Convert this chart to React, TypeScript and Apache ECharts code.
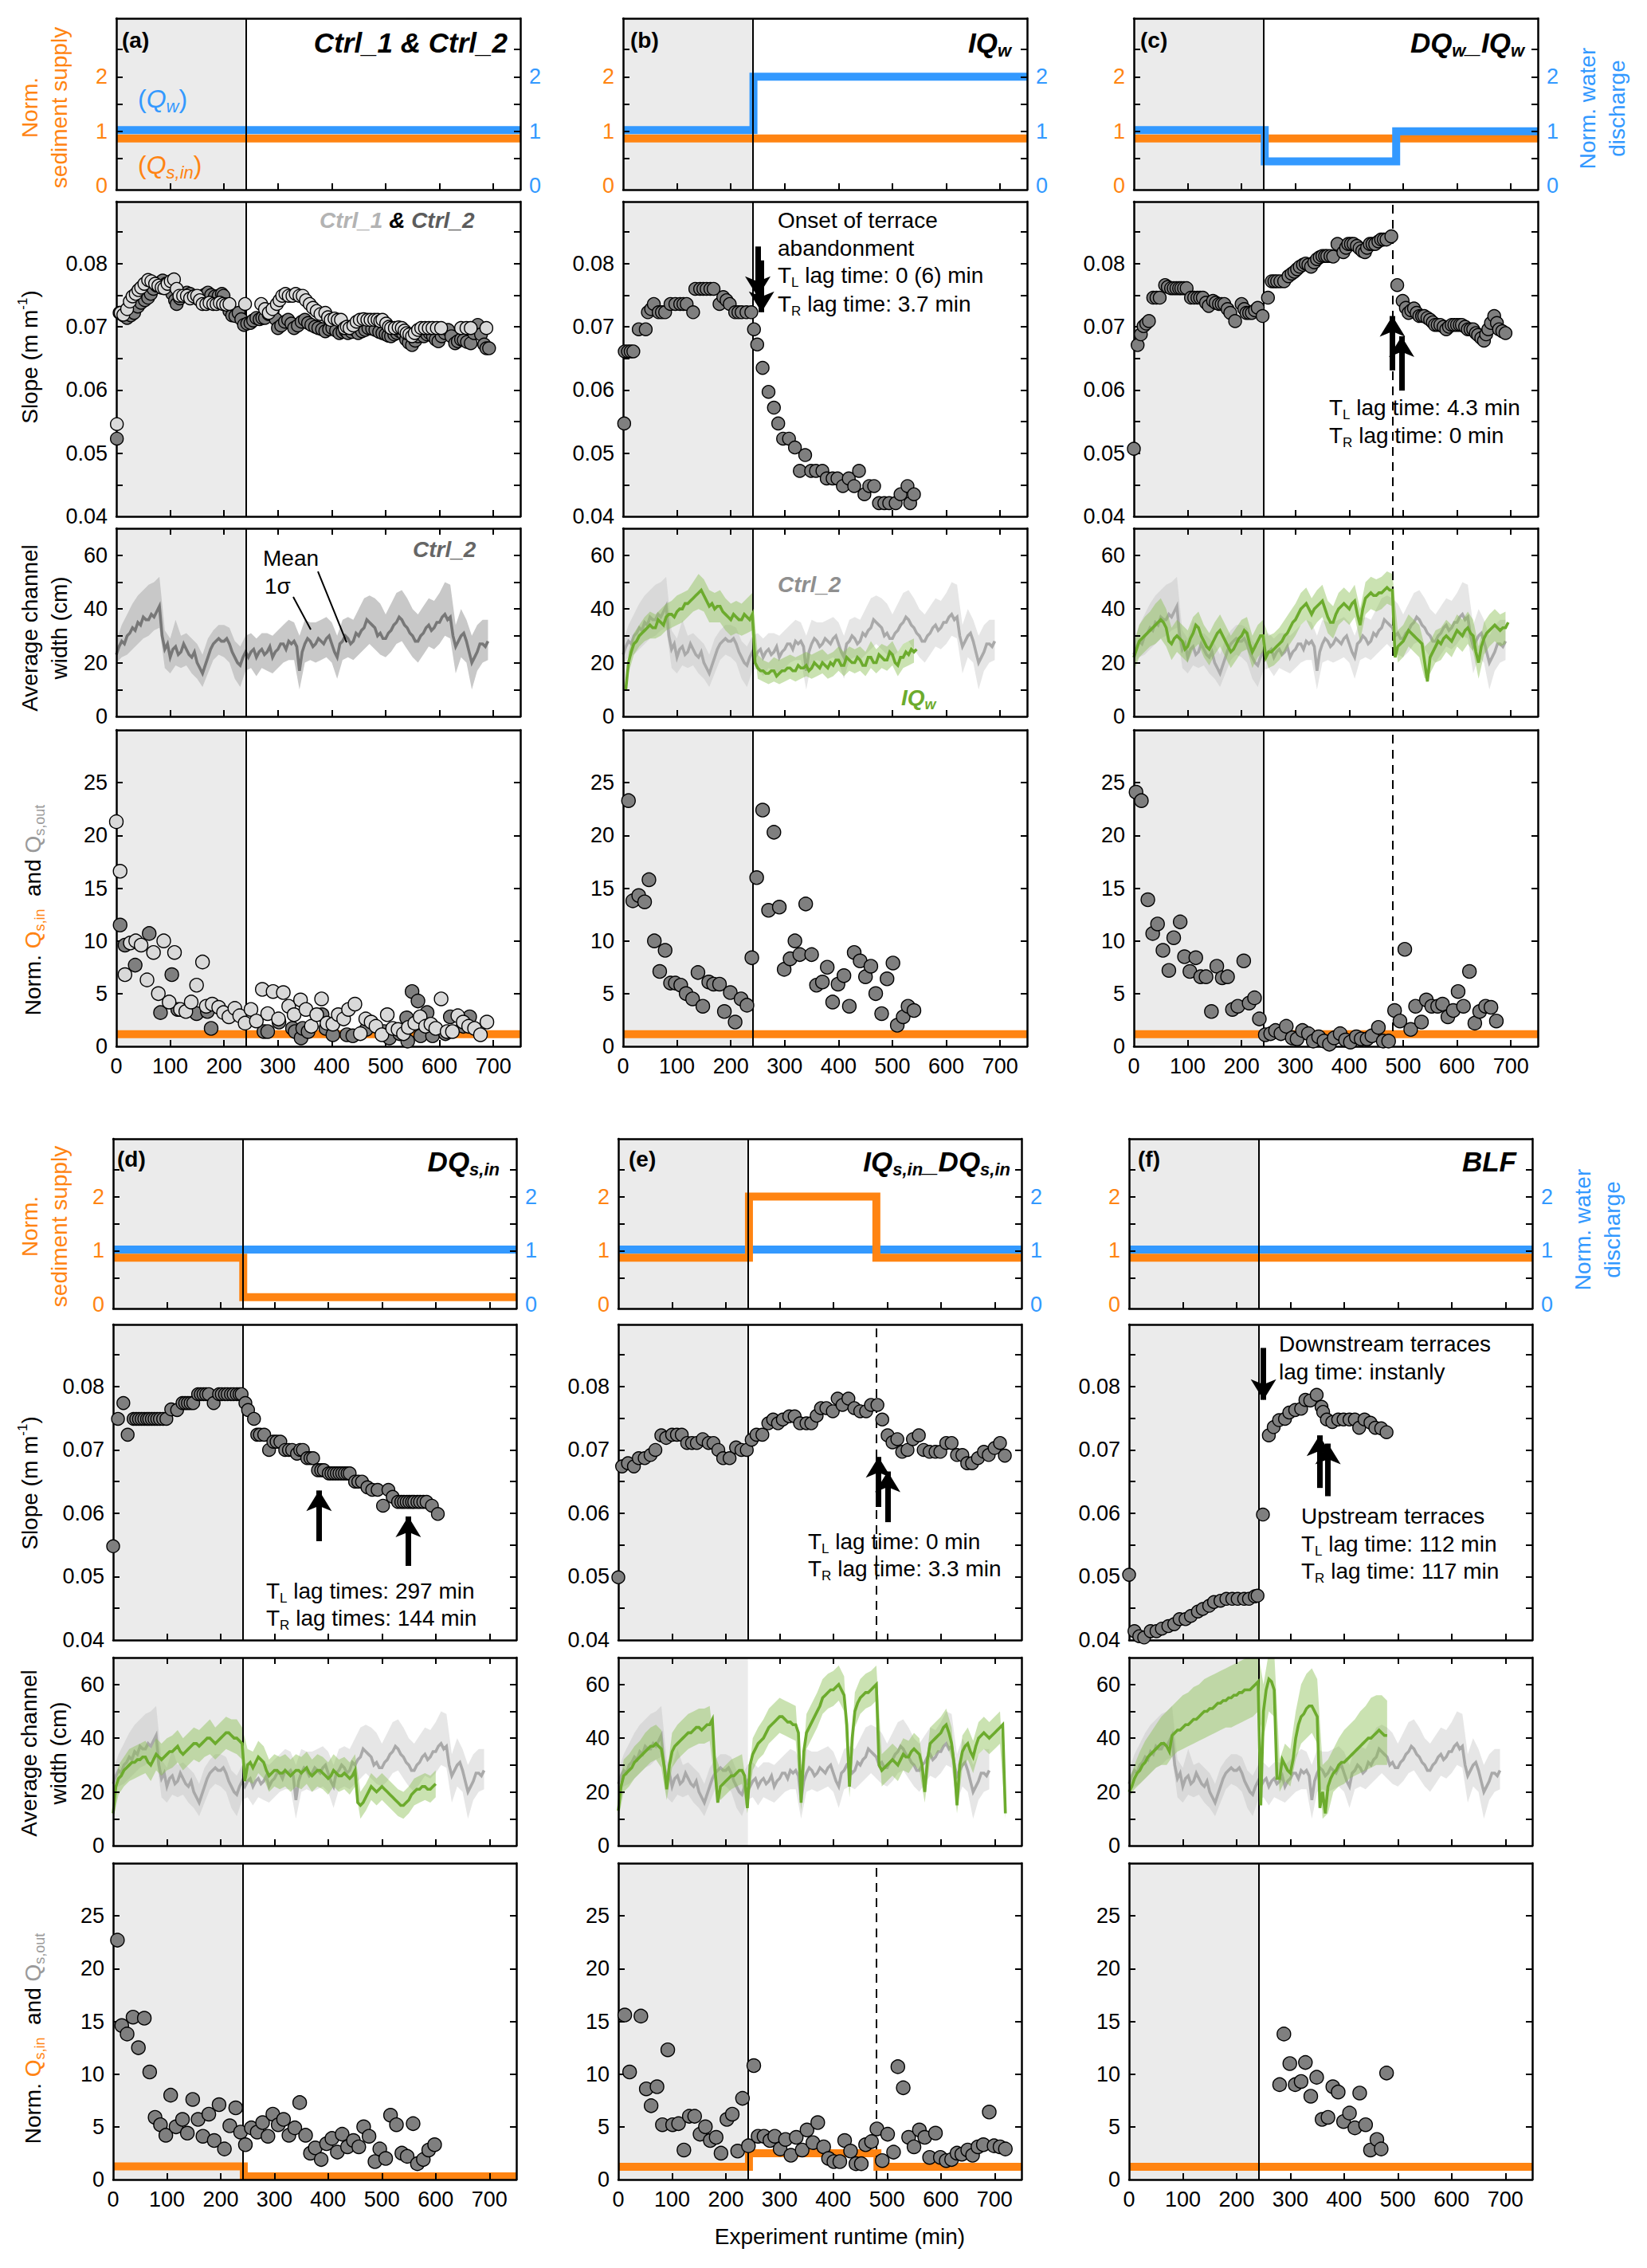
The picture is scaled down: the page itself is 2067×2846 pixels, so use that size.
import React, { useEffect, useRef } from 'react';
import * as echarts from 'echarts';

const FONT = '"Liberation Sans", Arial, Helvetica, sans-serif';
const ORANGE = '#ff8412';
const BLUE = '#3399ff';
const GREEN = '#6cab2d';
const GREEN_BAND = 'rgba(138,191,82,0.45)';
const GREY_MEAN = '#a9a9a9';
const GREY_BAND = 'rgba(185,185,185,0.36)';
const DARK_PT = '#7f7f7f';
const LIGHT_PT = '#d9d9d9';
const SHADE = '#ebebeb';

// ---------- axis ticks / labels ----------
const X_TICKS = [100, 200, 300, 400, 500, 600, 700];
const X_LABELS = [0, 100, 200, 300, 400, 500, 600, 700];
const SUPPLY_TICKS = [0.5, 1, 1.5, 2, 2.5];
const SUPPLY_LABELS = [0, 1, 2];
const SLOPE_TICKS = [0.045, 0.05, 0.055, 0.06, 0.065, 0.07, 0.075, 0.08, 0.085];
const SLOPE_LABELS = [0.04, 0.05, 0.06, 0.07, 0.08];
const WIDTH_TICKS = [10, 20, 30, 40, 50, 60];
const WIDTH_LABELS = [0, 20, 40, 60];
const QS_TICKS = [5, 10, 15, 20, 25];
const QS_LABELS = [0, 5, 10, 15, 20, 25];

// ---------- normalized supply (orange = Qs,in ; blue = Qw) ----------
const supOrangeFlat = [[0, 0.87], [750, 0.87]];
const supOrangeD = [[0, 0.87], [242, 0.87], [242, 0.14], [750, 0.14]];
const supOrangeE = [[0, 0.87], [243, 0.87], [243, 2.0], [480, 2.0], [480, 0.87], [750, 0.87]];
const supBlueFlat = [[0, 1.02], [750, 1.02]];
const supBlueB = [[0, 1.02], [242, 1.02], [242, 2.0], [750, 2.0]];
const supBlueC = [[0, 1.02], [243, 1.02], [243, 0.45], [487, 0.45], [487, 1.0], [750, 1.0]];

// ---------- normalized Qs,in in lower plots ----------
const qsInFlat = [[0, 1.15], [750, 1.15]];
const qsInD = [[0, 1.25], [243, 1.25], [243, 0.3], [750, 0.3]];
const qsInE = [[0, 1.2], [243, 1.2], [243, 2.5], [482, 2.5], [482, 1.2], [750, 1.2]];
const qsInF = [[0, 1.2], [750, 1.2]];

// ---------- slope (m/m) ----------
const slopeCtrl2 = [[1,0.0523],[6,0.0722],[13,0.0718],[20,0.0714],[27,0.0718],[33,0.0722],[40,0.0732],[46,0.0738],[53,0.0742],[59,0.0746],[64,0.0752],[69,0.076],[75,0.0765],[81,0.077],[86,0.0773],[92,0.0768],[98,0.0762],[104,0.0752],[109,0.0742],[112,0.0736],[118,0.0745],[124,0.075],[131,0.0754],[137,0.0752],[144,0.0748],[150,0.0745],[157,0.0748],[163,0.075],[170,0.0754],[176,0.075],[183,0.0748],[190,0.0749],[196,0.0752],[199,0.0749],[205,0.0735],[210,0.0725],[215,0.0718],[221,0.0717],[227,0.0722],[232,0.0712],[237,0.0703],[243,0.0705],[249,0.0706],[254,0.071],[260,0.0714],[266,0.0712],[271,0.0714],[276,0.0714],[283,0.072],[290,0.0725],[296,0.0712],[300,0.0698],[306,0.0702],[313,0.0708],[319,0.0711],[325,0.0705],[330,0.0698],[337,0.0702],[344,0.0708],[350,0.0711],[356,0.0706],[362,0.0703],[369,0.07],[375,0.0698],[382,0.0696],[388,0.0693],[395,0.0696],[401,0.0698],[408,0.0694],[414,0.069],[420,0.0692],[426,0.0693],[430,0.069],[437,0.0692],[443,0.0695],[449,0.069],[456,0.0693],[462,0.0695],[468,0.0698],[475,0.0697],[481,0.0695],[488,0.0692],[494,0.069],[500,0.0688],[505,0.0686],[510,0.0685],[516,0.0688],[521,0.069],[526,0.0693],[532,0.069],[538,0.068],[543,0.0675],[549,0.0671],[555,0.0678],[560,0.0685],[566,0.069],[571,0.0685],[577,0.0688],[582,0.069],[588,0.0685],[593,0.068],[598,0.0677],[604,0.0685],[610,0.069],[616,0.0695],[622,0.0685],[629,0.0674],[634,0.0677],[640,0.068],[645,0.0679],[651,0.0676],[658,0.0674],[664,0.069],[671,0.0703],[677,0.0688],[683,0.0672],[687,0.0666],[692,0.0666]];
const slopeCtrl1 = [[1,0.0546],[8,0.0722],[13,0.0719],[20,0.0728],[25,0.074],[30,0.0748],[36,0.0752],[41,0.0758],[46,0.0762],[52,0.0768],[59,0.0774],[65,0.0772],[72,0.0768],[78,0.0765],[84,0.0762],[89,0.0761],[95,0.0768],[101,0.0772],[107,0.0775],[112,0.076],[117,0.0749],[124,0.0749],[131,0.0749],[137,0.0745],[144,0.0748],[150,0.0749],[155,0.0742],[160,0.0736],[167,0.0736],[173,0.0738],[180,0.0736],[186,0.0736],[192,0.0738],[198,0.0736],[204,0.0735],[210,0.0736],[239,0.0736],[269,0.0736],[276,0.0728],[283,0.0722],[290,0.0728],[298,0.0736],[303,0.0742],[308,0.0749],[314,0.0752],[320,0.0749],[327,0.0749],[333,0.0752],[340,0.0749],[346,0.0749],[352,0.0742],[359,0.0736],[365,0.073],[372,0.0725],[379,0.072],[388,0.0722],[393,0.0715],[398,0.0711],[405,0.0713],[411,0.0711],[417,0.0711],[424,0.0698],[428,0.07],[433,0.0698],[440,0.0702],[446,0.0708],[452,0.0711],[459,0.0712],[466,0.0711],[472,0.0711],[479,0.0711],[485,0.0711],[490,0.0709],[494,0.0711],[501,0.0705],[506,0.07],[510,0.0698],[517,0.0698],[524,0.0699],[530,0.0698],[535,0.0694],[539,0.069],[544,0.0688],[549,0.0685],[554,0.069],[560,0.0695],[566,0.0698],[573,0.0698],[580,0.0698],[587,0.0698],[595,0.0698],[603,0.0698],[640,0.0698],[650,0.0698],[658,0.0698],[687,0.0698]];
const slopeB = [[2,0.0547],[3,0.0661],[9,0.0661],[14,0.0661],[19,0.0661],[29,0.0696],[42,0.0696],[46,0.0723],[52,0.0728],[57,0.0736],[66,0.0723],[72,0.0723],[78,0.0723],[88,0.0736],[97,0.0736],[106,0.0736],[112,0.0736],[118,0.0736],[130,0.0723],[134,0.076],[143,0.076],[149,0.076],[155,0.076],[162,0.076],[168,0.076],[179,0.0736],[186,0.0747],[192,0.0742],[198,0.0736],[208,0.0723],[214,0.0723],[220,0.0723],[229,0.0723],[238,0.0723],[243,0.0696],[249,0.0672],[259,0.0635],[270,0.0597],[280,0.0572],[288,0.0547],[297,0.0523],[308,0.0523],[319,0.0509],[328,0.0472],[338,0.0497],[349,0.0472],[358,0.0472],[370,0.0472],[378,0.046],[389,0.046],[398,0.046],[408,0.0448],[419,0.046],[429,0.0448],[438,0.0472],[448,0.0435],[457,0.0448],[466,0.0448],[475,0.0421],[485,0.0421],[494,0.0421],[506,0.0421],[515,0.0435],[528,0.0448],[533,0.0421],[540,0.0435]];
const slopeC = [[0,0.0507],[7,0.0671],[13,0.0688],[18,0.0701],[23,0.0705],[28,0.0709],[36,0.0746],[42,0.0746],[48,0.0746],[58,0.0766],[63,0.0763],[69,0.0761],[74,0.0761],[79,0.0761],[84,0.0761],[88,0.0761],[93,0.0761],[98,0.0761],[106,0.0746],[112,0.0746],[118,0.0746],[123,0.0746],[128,0.0746],[134,0.0738],[139,0.0733],[147,0.0741],[152,0.0738],[158,0.0736],[163,0.0736],[168,0.0736],[174,0.0728],[179,0.0722],[188,0.0709],[200,0.0736],[205,0.0728],[209,0.0722],[214,0.0722],[219,0.0722],[225,0.0726],[230,0.073],[239,0.0717],[249,0.0746],[256,0.0772],[261,0.0772],[266,0.0772],[272,0.0772],[279,0.0772],[287,0.078],[293,0.0784],[298,0.0787],[303,0.0791],[308,0.0795],[314,0.0798],[319,0.08],[324,0.0798],[329,0.0795],[335,0.0802],[340,0.0807],[345,0.081],[350,0.0812],[355,0.0812],[359,0.0812],[365,0.0812],[370,0.0811],[378,0.0831],[389,0.0818],[394,0.0825],[398,0.0831],[403,0.0831],[408,0.0831],[414,0.0828],[419,0.0824],[424,0.082],[429,0.0818],[433,0.0825],[438,0.0831],[443,0.0831],[448,0.0831],[454,0.0835],[459,0.0838],[464,0.0838],[469,0.0838],[478,0.0843],[489,0.0766],[499,0.0741],[505,0.073],[510,0.0722],[515,0.0726],[520,0.0729],[525,0.0722],[530,0.0717],[535,0.0717],[539,0.0717],[545,0.0714],[550,0.0711],[555,0.0707],[559,0.0703],[564,0.0703],[569,0.0703],[575,0.07],[580,0.0696],[585,0.07],[590,0.0703],[595,0.0703],[600,0.0703],[605,0.0703],[609,0.0703],[615,0.07],[620,0.0696],[625,0.0696],[630,0.0696],[635,0.069],[639,0.0687],[645,0.0682],[650,0.0678],[654,0.0688],[658,0.0696],[663,0.0706],[669,0.0717],[674,0.0706],[678,0.0696],[684,0.0693],[690,0.069]];
const slopeD = [[0,0.0548],[9,0.0749],[19,0.0774],[27,0.0724],[38,0.0749],[43,0.0749],[48,0.0749],[53,0.0749],[58,0.0749],[63,0.0749],[67,0.0749],[72,0.0749],[77,0.0749],[82,0.0749],[87,0.0749],[93,0.0749],[99,0.0749],[108,0.0764],[119,0.0763],[129,0.0774],[134,0.0774],[139,0.0774],[144,0.0774],[149,0.0774],[158,0.0788],[163,0.0788],[168,0.0788],[173,0.0788],[178,0.0788],[187,0.0774],[197,0.0788],[202,0.0788],[208,0.0788],[213,0.0788],[219,0.0788],[224,0.0788],[230,0.0788],[235,0.0788],[239,0.0788],[246,0.0774],[251,0.0763],[262,0.0749],[268,0.0724],[273,0.0724],[281,0.0724],[290,0.07],[298,0.0713],[304,0.0713],[311,0.0713],[320,0.07],[327,0.07],[333,0.07],[342,0.0694],[348,0.07],[353,0.07],[361,0.0687],[367,0.0687],[372,0.0687],[381,0.0668],[387,0.0668],[392,0.0668],[401,0.0663],[406,0.0663],[411,0.0663],[416,0.0663],[421,0.0663],[426,0.0663],[431,0.0663],[436,0.0663],[440,0.0663],[450,0.065],[456,0.065],[463,0.065],[473,0.0641],[482,0.0637],[492,0.0637],[502,0.0612],[512,0.0637],[520,0.0626],[530,0.0618],[536,0.0618],[541,0.0618],[546,0.0618],[551,0.0618],[556,0.0618],[560,0.0618],[566,0.0618],[571,0.0618],[577,0.0618],[583,0.0618],[593,0.0612],[604,0.0599]];
const slopeE = [[0,0.0499],[7,0.0674],[18,0.0679],[29,0.0674],[38,0.0687],[49,0.0687],[60,0.0692],[69,0.07],[80,0.0723],[89,0.0719],[100,0.0724],[109,0.0724],[118,0.0724],[128,0.0711],[137,0.0711],[146,0.0711],[157,0.0717],[168,0.0711],[177,0.0711],[186,0.07],[195,0.0687],[207,0.0687],[219,0.0704],[229,0.07],[239,0.07],[248,0.0716],[257,0.0724],[268,0.0724],[279,0.0742],[288,0.0748],[297,0.0742],[306,0.0748],[318,0.0753],[328,0.0753],[338,0.0742],[350,0.0742],[359,0.0742],[369,0.0754],[377,0.0766],[387,0.0766],[399,0.0761],[408,0.0781],[417,0.0771],[428,0.0781],[439,0.0766],[450,0.0761],[461,0.0761],[470,0.0771],[482,0.0771],[491,0.0748],[501,0.0723],[510,0.0712],[519,0.0717],[528,0.0697],[538,0.07],[548,0.0717],[559,0.0723],[568,0.07],[579,0.0697],[590,0.0697],[599,0.0697],[610,0.0711],[620,0.0711],[630,0.0692],[640,0.0692],[649,0.0679],[658,0.0679],[669,0.0687],[680,0.0697],[689,0.0692],[700,0.0703],[710,0.0711],[719,0.0691]];
const slopeF = [[0,0.0503],[10,0.0414],[19,0.0406],[28,0.0404],[40,0.0414],[51,0.0414],[61,0.0418],[73,0.0422],[84,0.0425],[94,0.0433],[105,0.0433],[115,0.0438],[128,0.0445],[137,0.0449],[149,0.0454],[158,0.046],[170,0.0462],[181,0.0465],[192,0.0465],[202,0.0465],[214,0.0465],[223,0.0465],[234,0.0469],[239,0.047],[249,0.0598],[260,0.0723],[269,0.0736],[279,0.0747],[290,0.0749],[298,0.0759],[309,0.0763],[320,0.0765],[328,0.0779],[337,0.0778],[349,0.0787],[358,0.0768],[361,0.076],[368,0.0748],[378,0.0744],[389,0.0748],[399,0.0748],[410,0.0748],[420,0.0748],[428,0.0735],[438,0.0748],[449,0.0743],[458,0.0735],[469,0.0734],[479,0.0728]];

// ---------- normalized Qs,out ----------
const qsCtrl2 = [[7,11.5],[16,9.6],[35,7.7],[61,10.7],[82,3.2],[103,6.8],[114,3.5],[149,3.1],[169,3.3],[176,1.7],[274,1.4],[281,1.4],[302,2.3],[327,1.7],[332,1.4],[343,0.8],[346,1.7],[356,1.4],[382,3.0],[389,1.7],[402,1.1],[428,1.1],[439,1.0],[464,1.6],[497,1.4],[507,0.8],[526,1.2],[539,2.7],[541,0.5],[549,5.2],[560,4.3],[565,1.0],[577,3.2],[587,1.0],[611,1.2],[620,2.8],[644,1.9],[656,2.8]];
const qsCtrl1 = [[0,21.3],[7,16.6],[16,6.8],[26,9.8],[36,10.0],[46,9.6],[57,6.3],[69,8.9],[78,5.0],[88,10.0],[98,4.2],[108,8.9],[119,3.5],[129,3.3],[139,4.2],[149,5.8],[160,8.0],[167,3.8],[178,4.0],[190,3.7],[199,3.2],[209,2.8],[220,3.6],[229,2.9],[239,2.2],[250,3.5],[260,2.4],[271,5.4],[281,3.1],[291,5.2],[301,2.6],[310,5.1],[320,3.8],[330,3.0],[342,4.4],[352,3.5],[362,1.9],[372,3.0],[381,4.5],[391,2.2],[402,2.1],[412,3.0],[422,2.6],[431,3.5],[443,4.0],[453,1.2],[463,2.6],[473,2.3],[482,1.9],[493,1.1],[503,3.0],[513,1.7],[523,1.6],[533,1.2],[542,1.8],[554,2.2],[564,2.8],[574,1.9],[584,2.1],[593,1.7],[603,4.5],[614,1.4],[624,1.4],[634,2.9],[644,2.3],[654,1.9],[665,1.7],[676,1.1],[688,2.3]];
const qsB = [[10,23.3],[18,13.8],[29,14.3],[40,13.7],[48,15.8],[58,10.0],[68,7.1],[78,9.1],[88,6.0],[97,6.0],[107,5.8],[117,5.0],[129,4.5],[139,7.0],[148,3.8],[159,6.1],[168,5.9],[179,5.9],[188,3.3],[199,5.1],[208,2.3],[219,4.5],[230,3.9],[239,8.4],[248,16.0],[259,22.4],[270,12.9],[280,20.3],[290,13.2],[299,7.3],[310,8.3],[319,10.0],[328,8.7],[339,13.5],[350,8.7],[359,5.8],[370,6.1],[379,7.5],[389,4.2],[399,5.9],[410,6.7],[420,3.8],[429,8.9],[440,8.1],[450,6.6],[460,7.6],[469,5.0],[480,3.1],[490,6.4],[501,7.9],[509,2.0],[520,2.8],[529,3.8],[540,3.4]];
const qsC = [[4,24.1],[14,23.3],[26,13.9],[35,10.7],[44,11.6],[54,9.1],[65,7.2],[74,10.3],[86,11.8],[94,8.5],[104,7.1],[115,8.4],[124,6.6],[134,6.6],[144,3.3],[154,7.6],[164,6.5],[174,6.6],[183,3.5],[193,3.8],[204,8.1],[214,4.1],[224,4.6],[233,2.6],[244,1.1],[254,1.2],[263,1.5],[273,1.2],[283,1.9],[294,0.8],[303,0.7],[313,1.5],[324,1.2],[333,0.5],[343,0.9],[353,0.5],[363,0.2],[372,0.8],[383,1.2],[393,0.6],[402,0.4],[413,0.9],[422,0.7],[433,0.7],[442,1.0],[454,1.8],[463,0.5],[473,0.5],[484,3.4],[494,2.4],[503,9.2],[514,1.6],[523,3.8],[534,2.3],[543,4.4],[553,3.8],[564,3.8],[573,4.0],[583,2.8],[593,3.4],[602,5.2],[612,3.8],[623,7.1],[633,2.2],[642,3.3],[653,3.8],[663,3.7],[673,2.4]];
const qsD = [[8,22.7],[16,14.6],[26,13.8],[37,15.4],[47,12.5],[58,15.3],[68,10.2],[78,5.9],[88,5.2],[98,4.2],[107,8.0],[117,5.0],[129,5.7],[138,4.4],[148,7.6],[158,5.7],[167,4.1],[178,6.2],[188,3.7],[197,7.1],[207,2.9],[217,5.1],[228,6.8],[237,4.5],[246,3.3],[257,4.9],[268,4.5],[278,5.4],[288,4.1],[297,6.2],[307,5.2],[317,5.7],[327,4.2],[338,4.9],[347,7.3],[358,4.2],[367,2.5],[376,3.0],[387,1.9],[397,3.4],[407,3.9],[417,2.6],[426,4.3],[436,3.1],[447,3.7],[457,3.1],[466,5.0],[476,4.1],[487,1.7],[496,2.9],[507,2.0],[516,6.1],[527,5.2],[537,2.5],[547,2.2],[558,5.3],[566,1.5],[577,1.9],[587,2.8],[598,3.3]];
const qsE = [[12,15.6],[21,10.2],[42,15.5],[52,8.6],[61,7.0],[72,8.8],[82,5.2],[92,12.3],[101,5.2],[112,5.3],[122,2.8],[132,6.0],[142,6.0],[152,4.3],[162,5.0],[171,3.7],[182,4.0],[191,2.5],[202,5.7],[212,6.2],[222,2.7],[231,7.7],[242,3.2],[252,10.8],[260,4.1],[271,4.1],[282,3.7],[291,4.1],[301,2.9],[311,3.8],[321,2.3],[331,4.0],[342,2.8],[351,4.7],[362,3.5],[371,5.4],[382,3.1],[391,2.0],[401,1.7],[412,1.7],[421,3.7],[432,2.7],[442,1.5],[452,1.5],[460,3.3],[471,3.6],[481,4.8],[491,1.8],[501,4.3],[512,2.6],[520,10.7],[530,8.7],[540,4.0],[550,3.1],[560,4.7],[570,4.0],[579,2.1],[590,4.4],[599,2.1],[610,1.8],[620,1.9],[630,2.5],[639,2.4],[650,2.8],[659,2.3],[669,3.1],[679,3.3],[690,6.4],[699,3.2],[710,3.1],[720,2.9]];
const qsF = [[280,9.0],[288,13.8],[299,11.0],[309,9.0],[320,9.3],[328,11.1],[338,7.9],[349,9.7],[359,5.7],[370,5.9],[379,8.8],[389,8.3],[399,5.5],[410,6.3],[420,4.9],[429,8.2],[440,5.2],[449,2.8],[461,3.8],[469,2.9],[479,10.1]];

// ---------- average channel width (cm): mean every 5 min, 1-sigma bounds every 10 min ----------
const ctrl2Mean = [23,26,28,27,30,31,33,32,35,34,37,36,36,38,37,39,41,30,25,27,22,25,26,23,24,27,25,23,22,24,20,18,16,19,22,25,27,28,29,28,28,29,27,24,22,20,19,22,24,22,24,25,22,24,25,23,24,26,22,24,25,27,27,25,28,27,28,26,17,24,27,29,28,26,27,29,28,27,29,30,27,24,22,27,28,30,29,27,28,31,30,32,33,36,35,34,33,30,31,29,29,31,32,34,35,37,36,34,33,31,30,28,28,30,31,33,34,32,33,35,35,37,38,36,37,30,26,28,30,31,28,24,20,22,24,27,27,26,28];
const ctrl2Lo = [20,22,23,25,27,29,30,32,33,18,16,19,18,19,16,14,11,16,21,23,22,20,14,11,17,18,15,18,17,16,18,20,21,21,10,20,21,20,21,22,20,14,21,22,21,23,25,27,25,23,22,24,27,28,25,22,20,23,26,25,27,30,29,16,22,20,10,17,20,21];
const ctrl2Hi = [28,34,38,42,45,47,49,50,52,32,29,36,30,31,29,27,23,29,32,34,34,33,28,26,30,31,29,31,31,30,32,34,36,35,30,36,35,35,36,37,35,30,36,37,36,40,44,45,44,42,38,42,46,47,44,40,38,41,44,43,46,50,49,34,40,36,30,34,36,36];

const iqwMean = [10,20,24,27,28,30,31,32,33,34,33,33,36,35,34,37,38,38,37,39,40,40,42,42,43,44,45,46,47,45,43,41,42,40,41,41,39,38,37,36,38,37,36,36,38,37,36,38,20,18,17,17,16,16,17,17,15,16,17,17,18,18,17,17,19,18,18,19,17,18,20,19,18,20,19,18,20,19,21,21,19,19,22,21,20,20,22,21,19,19,22,22,20,20,23,22,21,21,24,23,20,19,22,22,24,23,25,24,25];
const iqwLo = [16,23,26,28,29,29,30,32,33,34,35,37,39,40,39,35,35,35,32,30,31,30,31,32,14,13,12,13,12,13,14,13,14,15,14,15,16,14,15,17,15,17,16,17,15,18,16,18,17,19,15,18,19,20];
const iqwHi = [24,31,34,37,39,38,40,42,43,45,46,47,50,53,51,47,46,47,44,42,43,42,44,46,23,21,20,22,21,22,23,22,23,24,23,24,25,23,24,26,24,26,25,26,24,28,25,27,26,28,24,27,28,29];

const dqwiqwMean = [22,25,28,29,30,31,32,33,34,35,36,35,33,28,27,29,30,29,28,25,26,29,31,34,33,30,28,26,25,27,29,31,32,30,28,26,24,25,27,29,30,32,31,27,24,26,28,30,30,22,24,24,25,26,27,28,30,31,33,35,36,38,40,41,42,40,38,40,41,42,43,40,37,35,35,38,40,41,42,41,40,42,43,38,34,40,44,45,46,45,45,46,46,47,48,47,47,22,26,27,28,30,32,31,30,29,28,27,20,13,22,24,26,28,27,29,30,29,28,30,32,31,30,32,33,31,30,24,20,26,29,31,32,33,34,33,32,33,33,35];
const dqwiqwLo = [17,22,24,26,27,29,26,21,24,22,20,25,27,22,19,23,26,22,18,21,24,25,18,22,24,18,19,21,24,27,30,34,36,32,35,37,31,29,34,36,34,37,28,38,40,39,40,42,41,20,22,26,24,22,14,16,20,21,24,22,26,24,27,24,14,23,26,28,26,27];
const dqwiqwHi = [27,34,37,39,42,44,40,33,36,34,32,37,39,34,31,35,38,34,30,33,36,37,30,34,36,30,31,33,36,39,42,46,48,44,47,49,43,41,46,48,46,49,40,50,52,51,52,54,53,32,34,38,36,34,26,28,32,33,36,34,38,36,39,36,26,35,38,40,38,39];

const dqsMean = [12,22,25,26,28,29,30,31,31,32,32,33,33,31,30,32,34,33,32,33,34,35,35,36,37,35,34,35,36,37,38,38,37,38,39,40,40,39,38,39,40,41,42,42,41,40,40,39,38,24,30,31,29,31,33,32,31,28,26,27,28,28,27,27,28,27,26,27,28,28,27,28,29,27,26,27,28,28,27,26,25,26,28,27,26,26,27,26,25,26,28,16,15,16,18,20,22,21,20,21,22,21,20,19,18,17,16,15,15,16,17,19,20,21,21,22,22,21,21,22,23];
const dqsLo = [10,19,22,24,25,26,27,24,28,26,28,29,31,28,30,32,31,33,34,32,34,36,35,34,32,24,23,27,25,20,22,21,22,20,22,21,23,20,22,21,19,22,20,21,19,22,10,13,17,15,17,15,13,11,10,12,15,16,17,16,18];
const dqsHi = [16,30,33,36,37,38,39,36,40,38,40,41,43,40,42,44,43,45,47,44,46,48,47,47,44,36,35,39,37,32,34,33,34,32,34,33,35,32,34,33,31,34,32,33,31,34,20,23,27,25,27,25,23,21,20,22,25,26,27,26,28];

const iqsdqsMean = [13,22,26,27,28,29,31,32,33,34,35,36,37,37,38,37,36,30,21,30,35,37,38,39,40,41,42,42,43,44,44,43,44,45,45,47,28,16,22,23,24,25,26,26,27,28,28,26,14,30,34,36,38,39,40,42,44,45,46,47,48,48,47,46,46,45,45,42,16,35,42,44,46,48,50,52,55,56,57,58,58,59,60,58,56,45,22,40,50,53,55,56,57,57,58,59,60,30,28,29,30,31,32,31,30,32,34,33,33,35,36,35,34,30,20,32,38,39,40,41,42,44,45,42,38,30,15,30,35,37,38,35,33,37,40,41,42,41,40,41,42,43,44,45,12];
const iqsdqsLo = [10,20,22,25,27,29,31,32,29,17,29,32,34,36,37,38,38,39,22,17,19,21,22,23,12,28,32,34,38,40,42,41,40,39,13,36,40,44,49,51,52,54,50,18,44,49,51,52,54,22,24,26,24,28,27,30,28,16,32,34,36,39,32,12,29,32,27,34,36,34,36,38,10];
const iqsdqsHi = [18,32,34,37,39,42,44,45,43,26,42,45,47,49,50,51,51,52,34,28,30,32,33,34,20,40,44,47,51,53,55,54,53,52,22,49,53,57,62,64,65,67,63,28,57,62,64,65,67,34,36,38,36,40,39,42,40,26,44,46,48,51,44,20,41,44,39,46,48,46,48,50,16];

const blfMean = [20,22,25,27,28,30,31,33,34,35,36,37,38,38,37,35,41,42,43,43,44,45,45,46,47,47,48,49,50,50,51,51,52,53,53,54,54,55,55,56,56,57,57,58,58,58,59,60,61,15,50,58,62,61,58,25,25,32,30,28,27,32,40,45,48,49,51,52,52,50,48,14,20,12,22,25,27,28,30,31,31,32,33,34,35,36,37,38,39,40,40,41,42,43,42,41,41];
const blfLo = [18,21,23,25,27,29,30,30,33,35,36,37,38,39,40,41,42,43,44,44,45,46,47,48,50,40,50,48,20,24,22,32,38,40,42,38,10,12,20,22,23,25,26,27,28,29,30,30,30];
const blfHi = [24,30,35,39,42,45,48,50,52,54,56,57,59,60,62,63,64,65,66,67,68,69,70,71,72,60,72,72,32,38,36,50,60,64,66,62,30,32,36,40,43,45,47,50,52,55,56,56,54];

const CTRL2_W = { t0: 0, dt: 5, mean: ctrl2Mean, bt0: 0, bdt: 10, lo: ctrl2Lo, hi: ctrl2Hi };
const W_B = { t0: 5, dt: 5, mean: iqwMean, bt0: 10, bdt: 10, lo: iqwLo, hi: iqwHi };
const W_C = { t0: 0, dt: 5, mean: dqwiqwMean, bt0: 0, bdt: 10, lo: dqwiqwLo, hi: dqwiqwHi };
const W_D = { t0: 0, dt: 5, mean: dqsMean, bt0: 0, bdt: 10, lo: dqsLo, hi: dqsHi };
const W_E = { t0: 0, dt: 5, mean: iqsdqsMean, bt0: 0, bdt: 10, lo: iqsdqsLo, hi: iqsdqsHi };
const W_F = { t0: 0, dt: 5, mean: blfMean, bt0: 0, bdt: 10, lo: blfLo, hi: blfHi };

const STEP_T = 241;

const PANELS: any[] = [
  { supO: supOrangeFlat, supB: supBlueFlat, blueTop: true,
    slope: [[slopeCtrl2, DARK_PT], [slopeCtrl1, LIGHT_PT]], qs: [[qsCtrl2, DARK_PT], [qsCtrl1, LIGHT_PT]], qsIn: qsInFlat,
    widths: [[CTRL2_W, '#777777', '#c8c8c8']], dashed: null, dashedIn: [], widthVLine: true, arrows: [] },
  { supO: supOrangeFlat, supB: supBlueB, blueTop: true,
    slope: [[slopeB, DARK_PT]], qs: [[qsB, DARK_PT]], qsIn: qsInFlat,
    widths: [[CTRL2_W, GREY_MEAN, GREY_BAND], [W_B, GREEN, GREEN_BAND]], dashed: null, dashedIn: [], widthVLine: true,
    arrows: [[250, 0.0827, 0.0747], [257, 0.0805, 0.0723]] },
  { supO: supOrangeFlat, supB: supBlueC, blueTop: true,
    slope: [[slopeC, DARK_PT]], qs: [[qsC, DARK_PT]], qsIn: qsInFlat,
    widths: [[CTRL2_W, GREY_MEAN, GREY_BAND], [W_C, GREEN, GREEN_BAND]], dashed: 480, dashedIn: ['slope', 'width', 'qs'], widthVLine: true,
    arrows: [[480, 0.0631, 0.0717], [497, 0.0599, 0.0685]] },
  { supO: supOrangeD, supB: supBlueFlat, blueTop: false,
    slope: [[slopeD, DARK_PT]], qs: [[qsD, DARK_PT]], qsIn: qsInD,
    widths: [[CTRL2_W, GREY_MEAN, GREY_BAND], [W_D, GREEN, GREEN_BAND]], dashed: null, dashedIn: [], widthVLine: true,
    arrows: [[383, 0.0556, 0.0636], [549, 0.0517, 0.0595]] },
  { supO: supOrangeE, supB: supBlueFlat, blueTop: false,
    slope: [[slopeE, DARK_PT]], qs: [[qsE, DARK_PT]], qsIn: qsInE,
    widths: [[CTRL2_W, GREY_MEAN, GREY_BAND], [W_E, GREEN, GREEN_BAND]], dashed: 480, dashedIn: ['slope', 'qs'], widthVLine: false,
    arrows: [[484, 0.061, 0.0689], [501, 0.0586, 0.0666]] },
  { supO: supOrangeFlat, supB: supBlueFlat, blueTop: true,
    slope: [[slopeF, DARK_PT]], qs: [[qsF, DARK_PT]], qsIn: qsInF,
    widths: [[CTRL2_W, GREY_MEAN, GREY_BAND], [W_F, GREEN, GREEN_BAND]], dashed: null, dashedIn: [], widthVLine: true,
    arrows: [[250, 0.0861, 0.0779], [354, 0.064, 0.0723], [370, 0.0627, 0.071]] },
];

const ROWS: any[] = [
  { supply: [23, 238], slope: [253, 648], width: [663, 899], qs: [916, 1313], left: [146, 782, 1423], w: 507 },
  { supply: [1429, 1642], slope: [1662, 2058], width: [2080, 2316], qs: [2338, 2735], left: [142, 776, 1417], w: 506 },
];

const KINDS: any = {
  supply: { min: -0.07, max: 3.07, ticks: SUPPLY_TICKS, labels: SUPPLY_LABELS },
  slope: { min: 0.04, max: 0.0898, ticks: SLOPE_TICKS, labels: SLOPE_LABELS, fmt: (v: number) => v.toFixed(2) },
  width: { min: 0, max: 70, ticks: WIDTH_TICKS, labels: WIDTH_LABELS },
  qs: { min: 0, max: 30, ticks: QS_TICKS, labels: QS_LABELS },
};

function R(size: number, o: any = {}) {
  return {
    fontSize: size, fontFamily: FONT, fontWeight: o.b ? 'bold' : 'normal', fontStyle: o.i ? 'italic' : 'normal',
    fill: o.c || '#000', lineHeight: o.lh || Math.round(size * 1.3), verticalAlign: o.va || 'middle',
  };
}
function T(x: number, y: number, text: string, rich: any, o: any = {}) {
  return {
    type: 'text', x, y, rotation: o.rot || 0, z: 100, silent: true,
    style: {
      text, rich, align: o.align || 'left', textAlign: o.align || 'left', verticalAlign: 'middle', textVerticalAlign: 'middle',
      fontSize: 28, fontFamily: FONT, fill: '#000',
    },
  };
}

function buildOption() {
  const grid: any[] = [];
  const xAxis: any[] = [];
  const yAxis: any[] = [];
  const series: any[] = [];
  const graphic: any[] = [];

  const axLine = { show: true, onZero: false, lineStyle: { color: '#000', width: 2.5 } };
  const tick = (vals: number[]) => ({ show: true, inside: true, length: 8, lineStyle: { color: '#000', width: 2 }, customValues: vals });
  const lbl = (vals: number[], color: string, fmt?: any) => ({
    show: true, customValues: vals, fontSize: 27, fontFamily: FONT, color, margin: 11, formatter: fmt || ((v: number) => String(v)),
  });

  function addPlot(row: number, col: number, kind: string) {
    const RW = ROWS[row];
    const [top, bottom] = RW[kind];
    const K = KINDS[kind];
    const gi = grid.length;
    grid.push({ left: RW.left[col], top, width: RW.w, height: bottom - top, show: false, outerBoundsMode: 'none', containLabel: false });
    const xi = xAxis.length;
    xAxis.push({
      gridIndex: gi, type: 'value', position: 'bottom', min: 0, max: 750, z: 10, axisLine: axLine,
      axisTick: tick(X_TICKS), splitLine: { show: false },
      axisLabel: kind === 'qs' ? lbl(X_LABELS, '#000') : { show: false },
    });
    xAxis.push({
      gridIndex: gi, type: 'value', position: 'top', min: 0, max: 750, z: 10, axisLine: axLine,
      axisTick: kind === 'width' ? tick(X_TICKS) : { show: false }, splitLine: { show: false }, axisLabel: { show: false },
    });
    const yi = yAxis.length;
    yAxis.push({
      gridIndex: gi, type: 'value', position: 'left', min: K.min, max: K.max, z: 10, axisLine: axLine,
      axisTick: tick(K.ticks), splitLine: { show: false },
      axisLabel: lbl(K.labels, kind === 'supply' ? ORANGE : '#000', K.fmt),
    });
    yAxis.push({
      gridIndex: gi, type: 'value', position: 'right', min: K.min, max: K.max, z: 10, axisLine: axLine,
      axisTick: tick(K.ticks), splitLine: { show: false },
      axisLabel: kind === 'supply' ? lbl(SUPPLY_LABELS, BLUE) : { show: false },
    });
    return { xi, yi };
  }

  function background(p: any, vline: boolean, dashed: number | null) {
    series.push({
      type: 'line', xAxisIndex: p.xi, yAxisIndex: p.yi, data: [], z: 1, silent: true,
      markArea: { silent: true, label: { show: false }, itemStyle: { color: SHADE }, data: [[{ xAxis: 0 }, { xAxis: STEP_T }]] },
    });
    const lines: any[] = [];
    if (vline) lines.push({ xAxis: STEP_T, lineStyle: { color: '#000', width: 2, type: 'solid' } });
    if (dashed != null) lines.push({ xAxis: dashed, lineStyle: { color: '#000', width: 2, type: [11, 8] } });
    if (lines.length) {
      series.push({
        type: 'line', xAxisIndex: p.xi, yAxisIndex: p.yi, data: [], z: 5, silent: true,
        markLine: { silent: true, symbol: 'none', label: { show: false }, data: lines },
      });
    }
  }

  function stepLine(p: any, data: number[][], color: string, width: number, z: number) {
    series.push({
      type: 'line', xAxisIndex: p.xi, yAxisIndex: p.yi, data, z, silent: true, symbol: 'none', showSymbol: false,
      lineStyle: { color, width, cap: 'butt', join: 'miter' },
    });
  }

  function scatter(p: any, data: number[][], color: string, size: number) {
    series.push({
      type: 'scatter', xAxisIndex: p.xi, yAxisIndex: p.yi, data, z: 12, silent: true, clip: false,
      symbol: 'circle', symbolSize: size, itemStyle: { color, borderColor: '#000', borderWidth: 1.4, opacity: 1 },
    });
  }

  function band(p: any, w: any, color: string, z: number) {
    const n = Math.min(w.lo.length, w.hi.length);
    const xs = w.lo.slice(0, n).map((_: number, i: number) => w.bt0 + i * w.bdt);
    series.push({
      type: 'custom', xAxisIndex: p.xi, yAxisIndex: p.yi, z, silent: true, clip: true,
      data: [[xs[0], w.lo[0]]],
      renderItem: (params: any, api: any) => {
        if (params.dataIndex !== 0) return null;
        const pts: number[][] = [];
        for (let i = 0; i < n; i++) pts.push(api.coord([xs[i], w.hi[i]]));
        for (let i = n - 1; i >= 0; i--) pts.push(api.coord([xs[i], w.lo[i]]));
        return { type: 'polygon', shape: { points: pts }, style: { fill: color } };
      },
    });
  }

  function meanLine(p: any, w: any, color: string, z: number) {
    series.push({
      type: 'line', xAxisIndex: p.xi, yAxisIndex: p.yi, z, silent: true, symbol: 'none', showSymbol: false,
      data: w.mean.map((v: number, i: number) => [w.t0 + i * w.dt, v]), lineStyle: { color, width: 3.6, join: 'miter' },
    });
  }

  function arrows(p: any, list: number[][]) {
    if (!list.length) return;
    series.push({
      type: 'line', xAxisIndex: p.xi, yAxisIndex: p.yi, data: [], z: 14, silent: true,
      markLine: {
        silent: true, symbol: ['none', 'arrow'], symbolSize: [24, 26], label: { show: false },
        lineStyle: { color: '#000', width: 7, type: 'solid' },
        data: list.map(([t, a, b]) => [{ coord: [t, a] }, { coord: [t, b] }]),
      },
    });
  }

  PANELS.forEach((P, i) => {
    const row = Math.floor(i / 3);
    const col = i % 3;
    const s = addPlot(row, col, 'supply');
    background(s, true, null);
    if (P.blueTop) {
      stepLine(s, P.supO, ORANGE, 10, 3);
      stepLine(s, P.supB, BLUE, 10, 4);
    } else {
      stepLine(s, P.supB, BLUE, 10, 3);
      stepLine(s, P.supO, ORANGE, 10, 4);
    }
    const sl = addPlot(row, col, 'slope');
    background(sl, true, P.dashedIn.includes('slope') ? P.dashed : null);
    P.slope.forEach(([d, c]: any) => scatter(sl, d, c, 16));
    arrows(sl, P.arrows);
    const w = addPlot(row, col, 'width');
    background(w, P.widthVLine, P.dashedIn.includes('width') ? P.dashed : null);
    P.widths.forEach(([ws, lc, bc]: any, k: number) => band(w, ws, bc, 2 + k * 2));
    P.widths.forEach(([ws, lc]: any, k: number) => meanLine(w, ws, lc, 3 + k * 2));
    const q = addPlot(row, col, 'qs');
    background(q, true, P.dashedIn.includes('qs') ? P.dashed : null);
    stepLine(q, P.qsIn, ORANGE, 10, 3);
    P.qs.forEach(([d, c]: any) => scatter(q, d, c, 17));
  });

  // ---------------- texts ----------------
  const nm = { n: R(28, { lh: 37 }) };
  const orangeNm = { o: R(28, { c: ORANGE, lh: 37 }) };
  const blueNm = { b: R(28, { c: BLUE, lh: 37 }) };
  const slopeNm = { n: R(28, { lh: 34 }), sup: R(17, { lh: 14, va: 'top' }) };
  const qsNm = {
    n: R(28, { lh: 36 }), o: R(28, { c: ORANGE, lh: 36 }), os: R(18, { c: ORANGE, lh: 12, va: 'bottom' }),
    g: R(28, { c: '#9a9a9a', lh: 36 }), gs: R(18, { c: '#9a9a9a', lh: 12, va: 'bottom' }),
  };
  const ROT = Math.PI / 2;
  const leftNames = [
    { s: 135, sl: 448, w: 788, q: 1142, wx: 55.5 },
    { s: 1539, sl: 1861, w: 2200, q: 2558, wx: 54.5 },
  ];
  leftNames.forEach((L) => {
    graphic.push(T(55.5, L.s, '{o|Norm.}\n{o|sediment supply}', orangeNm, { rot: ROT, align: 'center' }));
    graphic.push(T(37, L.sl, '{n|Slope (m m}{sup|-1}{n|)}', slopeNm, { rot: ROT, align: 'center' }));
    graphic.push(T(L.wx, L.w, '{n|Average channel}\n{n|width (cm)}', nm, { rot: ROT, align: 'center' }));
    graphic.push(T(41, L.q, '{n|Norm. }{o|Q}{os|s,in}{n|  and }{g|Q}{gs|s,out}', qsNm, { rot: ROT, align: 'center' }));
  });
  graphic.push(T(2011, 136, '{b|Norm. water}\n{b|discharge}', blueNm, { rot: ROT, align: 'center' }));
  graphic.push(T(2004.5, 1543, '{b|Norm. water}\n{b|discharge}', blueNm, { rot: ROT, align: 'center' }));

  const letter = { b: R(28, { b: 1 }) };
  [[153, 50, '(a)'], [791, 50, '(b)'], [1431, 50, '(c)'], [147, 1454, '(d)'], [789, 1454, '(e)'], [1428, 1454, '(f)']].forEach(
    ([x, y, t]: any) => graphic.push(T(x, y, `{b|${t}}`, letter))
  );
  const ttl = { b: R(35, { b: 1, i: 1, lh: 42 }), s: R(22, { b: 1, i: 1, lh: 14, va: 'bottom' }) };
  graphic.push(T(637, 53, '{b|Ctrl_1 & Ctrl_2}', ttl, { align: 'right' }));
  graphic.push(T(1269, 53, '{b|IQ}{s|w}', ttl, { align: 'right' }));
  graphic.push(T(1913, 53, '{b|DQ}{s|w}{b|_IQ}{s|w}', ttl, { align: 'right' }));
  graphic.push(T(627, 1457, '{b|DQ}{s|s,in}', ttl, { align: 'right' }));
  graphic.push(T(1268, 1457, '{b|IQ}{s|s,in}{b|_DQ}{s|s,in}', ttl, { align: 'right' }));
  graphic.push(T(1903, 1457, '{b|BLF}', ttl, { align: 'right' }));

  const qw = { p: R(32, { c: BLUE, lh: 40 }), q: R(32, { c: BLUE, i: 1, lh: 40 }), s: R(22, { c: BLUE, i: 1, lh: 14, va: 'bottom' }) };
  const qsi = { p: R(32, { c: ORANGE, lh: 40 }), q: R(32, { c: ORANGE, i: 1, lh: 40 }), s: R(22, { c: ORANGE, i: 1, lh: 14, va: 'bottom' }) };
  graphic.push(T(173, 124, '{p|(}{q|Q}{s|w}{p|)}', qw));
  graphic.push(T(173, 207, '{p|(}{q|Q}{s|s,in}{p|)}', qsi));

  const ctrlR = { l: R(28, { b: 1, i: 1, c: '#b3b3b3' }), k: R(28, { b: 1, i: 1 }), d: R(28, { b: 1, i: 1, c: '#5c5c5c' }) };
  graphic.push(T(401, 276, '{l|Ctrl_1}{k| & }{d|Ctrl_2}', ctrlR));
  graphic.push(T(518, 689, '{d|Ctrl_2}', { d: R(28, { b: 1, i: 1, c: '#666666' }) }));
  graphic.push(T(330, 700, '{n|Mean}', nm));
  graphic.push(T(332, 735, '{n|1σ}', nm));
  graphic.push({ type: 'line', z: 100, silent: true, shape: { x1: 399, y1: 717, x2: 435, y2: 806 }, style: { stroke: '#000', lineWidth: 2 } });
  graphic.push({ type: 'line', z: 100, silent: true, shape: { x1: 368, y1: 749, x2: 390, y2: 790 }, style: { stroke: '#000', lineWidth: 2 } });
  graphic.push(T(976, 733, '{d|Ctrl_2}', { d: R(28, { b: 1, i: 1, c: '#8f8f8f' }) }));
  graphic.push(T(1131, 875, '{g|IQ}{s|w}', { g: R(28, { b: 1, i: 1, c: GREEN, lh: 36 }), s: R(18, { b: 1, i: 1, c: GREEN, lh: 12, va: 'bottom' }) }));

  const lag = { n: R(28, { lh: 36 }), s: R(17, { lh: 10, va: 'bottom' }) };
  const ann: any[] = [
    [976, 276, '{n|Onset of terrace}'], [976, 311, '{n|abandonment}'],
    [976, 345, '{n|T}{s|L}{n| lag time: 0 (6) min}'], [976, 381, '{n|T}{s|R}{n| lag time: 3.7 min}'],
    [1668, 511, '{n|T}{s|L}{n| lag time: 4.3 min}'], [1668, 546, '{n|T}{s|R}{n| lag time: 0 min}'],
    [334, 1996, '{n|T}{s|L}{n| lag times: 297 min}'], [334, 2030, '{n|T}{s|R}{n| lag times: 144 min}'],
    [1014, 1934, '{n|T}{s|L}{n| lag time: 0 min}'], [1014, 1968, '{n|T}{s|R}{n| lag time: 3.3 min}'],
    [1605, 1686, '{n|Downstream terraces}'], [1605, 1721, '{n|lag time: instanly}'],
    [1633, 1902, '{n|Upstream terraces}'], [1633, 1937, '{n|T}{s|L}{n| lag time: 112 min}'], [1633, 1971, '{n|T}{s|R}{n| lag time: 117 min}'],
  ];
  ann.forEach(([x, y, t]) => graphic.push(T(x, y, t, lag)));

  graphic.push(T(1054, 2806, '{n|Experiment runtime (min)}', nm, { align: 'center' }));

  return {
    animation: false,
    backgroundColor: '#ffffff',
    textStyle: { fontFamily: FONT },
    grid, xAxis, yAxis, series, graphic,
  };
}

export default function App() {
  const ref = useRef<HTMLDivElement>(null);
  useEffect(() => {
    if (!ref.current) return;
    const chart = echarts.init(ref.current, null, { renderer: 'svg', width: 2067, height: 2846 });
    chart.setOption(buildOption() as any);
    return () => chart.dispose();
  }, []);
  return <div ref={ref} style={{ position: 'absolute', left: 0, top: 0, width: 2067, height: 2846, background: '#fff' }} />;
}
